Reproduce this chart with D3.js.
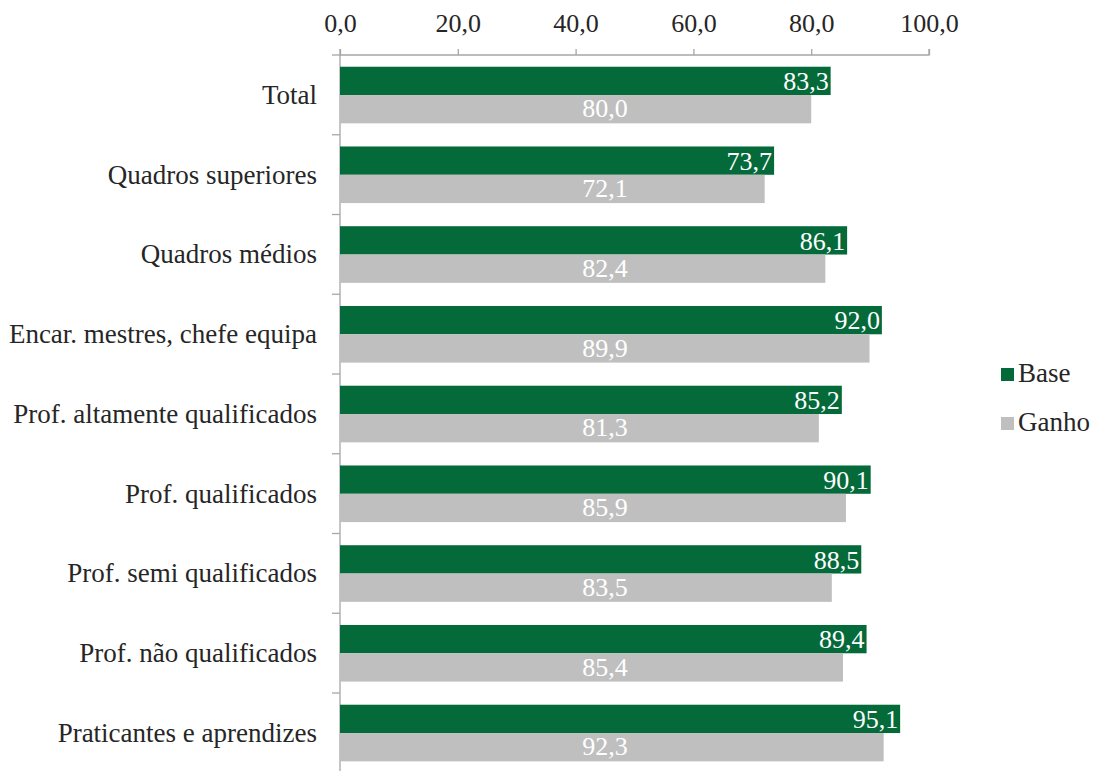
<!DOCTYPE html>
<html>
<head>
<meta charset="utf-8">
<script src="https://cdn.jsdelivr.net/npm/d3@7"></script>
<style>
  body { margin: 0; background: #fff; }
</style>
</head>
<body>
<svg id="chart" width="1096" height="771"></svg>
<script>
const categories = ["Total", "Quadros superiores", "Quadros médios", "Encar. mestres, chefe equipa",
  "Prof. altamente qualificados", "Prof. qualificados", "Prof. semi qualificados",
  "Prof. não qualificados", "Praticantes e aprendizes"];
const baseValues = [83.3, 73.7, 86.1, 92.0, 85.2, 90.1, 88.5, 89.4, 95.1];
const ganhoValues = [80.0, 72.1, 82.4, 89.9, 81.3, 85.9, 83.5, 85.4, 92.3];
const tickValues = [0, 20, 40, 60, 80, 100];
const seriesNames = ["Base", "Ganho"];
const colors = ["#046A3A", "#BFBFBF"];

const FONT = "'Liberation Serif'";
const svg = d3.select("#chart");
const fmt = v => d3.format(".1f")(v).replace(".", ",");
const axisColor = "#A6A6A6";
const textColor = "#262626";

const x = d3.scaleLinear().domain([0, 100]).range([340, 929]);
const y = d3.scaleBand().domain(categories).range([55, 772.75]).paddingInner(0).paddingOuter(0);
const step = y.bandwidth();
const barOff = step * 0.147;
const barH = step * 0.355;

// top axis
const xAxis = svg.append("g").attr("transform", "translate(0,55)")
  .call(d3.axisTop(x).tickValues(tickValues).tickFormat(fmt).tickSize(6).tickPadding(17));
xAxis.attr("font-family", FONT);
xAxis.select(".domain").attr("stroke", axisColor).attr("stroke-width", 1.3).attr("d", `M${x(0)},-6V0H${x(100)}V-6`);
xAxis.selectAll(".tick line").attr("stroke", axisColor).attr("stroke-width", 1.3);
xAxis.selectAll(".tick text").attr("fill", textColor).attr("font-size", 26)
  .attr("font-family", FONT);

// left axis
const yAxis = svg.append("g").attr("transform", `translate(${x(0)},0)`);
yAxis.append("line").attr("x1", 0).attr("x2", 0).attr("y1", 55).attr("y2", 775)
  .attr("stroke", axisColor).attr("stroke-width", 1.3);
const boundaries = categories.map(c => y(c)).concat([y.range()[1]]);
yAxis.selectAll("line.tk").data(boundaries).join("line").attr("class", "tk")
  .attr("x1", -8).attr("x2", 0).attr("y1", d => d).attr("y2", d => d)
  .attr("stroke", axisColor).attr("stroke-width", 1.3);

svg.append("g").selectAll("text").data(categories).join("text")
  .attr("x", 317).attr("y", d => y(d) + step / 2 + 9)
  .attr("text-anchor", "end").attr("font-size", 27).attr("fill", textColor)
  .attr("font-family", FONT)
  .text(d => d);

// bars
const rows = categories.map((c, i) => ({ c, base: baseValues[i], ganho: ganhoValues[i] }));
const g = svg.append("g");
g.selectAll("rect.base").data(rows).join("rect").attr("class", "base")
  .attr("x", x(0)).attr("y", d => y(d.c) + barOff)
  .attr("width", d => x(d.base) - x(0)).attr("height", barH).attr("fill", colors[0]);
g.selectAll("rect.ganho").data(rows).join("rect").attr("class", "ganho")
  .attr("x", x(0)).attr("y", d => y(d.c) + barOff + barH)
  .attr("width", d => x(d.ganho) - x(0)).attr("height", barH).attr("fill", colors[1]);

// labels
g.selectAll("text.lb").data(rows).join("text").attr("class", "lb")
  .attr("x", d => x(d.base) - 2).attr("y", d => y(d.c) + barOff + barH - 5)
  .attr("text-anchor", "end").attr("font-size", 26).attr("fill", "#fff")
  .attr("font-family", FONT)
  .text(d => fmt(d.base));
g.selectAll("text.lg").data(rows).join("text").attr("class", "lg")
  .attr("x", x(45)).attr("y", d => y(d.c) + barOff + 2 * barH - 6)
  .attr("text-anchor", "middle").attr("font-size", 26).attr("fill", "#fff")
  .attr("font-family", FONT)
  .text(d => fmt(d.ganho));

// legend
const leg = svg.append("g").selectAll("g").data(seriesNames).join("g")
  .attr("transform", (d, i) => `translate(1001,${368 + i * 49})`);
leg.append("rect").attr("width", 13).attr("height", 13).attr("fill", (d, i) => colors[i]);
leg.append("text").attr("x", 17).attr("y", 14).attr("font-size", 27).attr("fill", textColor)
  .attr("font-family", FONT).text(d => d);
</script>
</body>
</html>
